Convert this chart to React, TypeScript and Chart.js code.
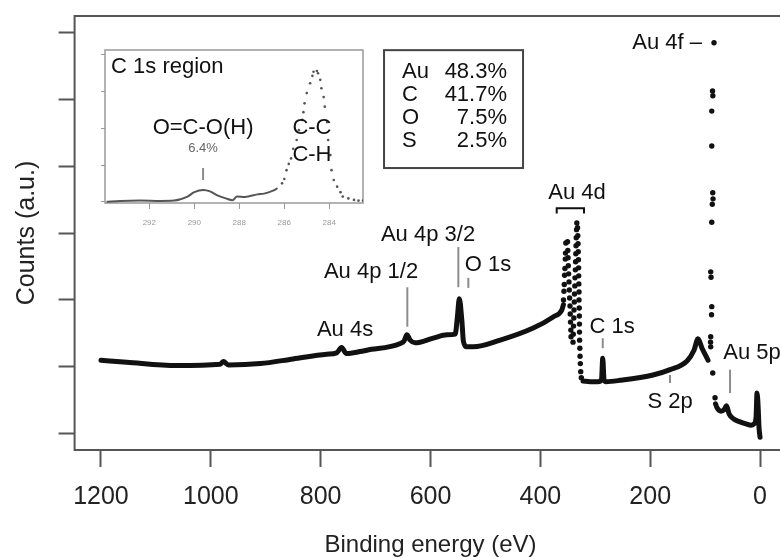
import React, { useEffect, useRef } from "react";
import { Chart, registerables } from "chart.js";

Chart.register(...registerables);

const FONT = "'Liberation Sans', Arial, Helvetica, sans-serif";

// ---------- Survey spectrum (binding energy, eV / counts, a.u.) ----------
const surveyHighEnergy = [1200, 1153, 1062, 983, 977, 968, 910, 850, 789, 771, 762, 753, 728, 716, 655, 648, 643, 637, 628, 595, 570, 555, 551, 547.5, 543, 540, 534, 522, 473, 413, 376, 361, 358];
const surveyHighCounts = [1.10, 1.07, 1.02, 1.04, 1.08, 1.03, 1.05, 1.12, 1.19, 1.21, 1.29, 1.20, 1.23, 1.25, 1.35, 1.39, 1.48, 1.40, 1.36, 1.43, 1.48, 1.49, 1.75, 2.02, 1.70, 1.38, 1.30, 1.30, 1.40, 1.58, 1.75, 1.85, 1.93];

const surveyMidEnergy = [322.3, 309.5, 295.0, 288.6, 286.4, 284.0, 280.4, 254.9, 194.8, 163.9, 132.9, 120.2, 112.9, 105.6, 98.3, 94.7];
const surveyMidCounts = [0.79, 0.78, 0.78, 0.81, 1.13, 0.81, 0.78, 0.80, 0.88, 0.96, 1.09, 1.25, 1.42, 1.28, 1.16, 1.10];

const surveyLowEnergy = [81.0, 78.3, 71.0, 65.5, 61.0, 56.4, 47.3, 36.4, 25.5, 16.4, 10.9, 7.3, 5.5, 3.6, 1.8, 0];
const surveyLowCounts = [0.45, 0.39, 0.34, 0.36, 0.42, 0.30, 0.22, 0.18, 0.15, 0.13, 0.15, 0.24, 0.61, 0.43, 0.09, -0.05];

// Au 4d doublet, plotted as separate points
const au4dEnergy = [357.8, 357.0, 356.4, 355.9, 355.2, 354.6, 354.2, 353.6,
  350.5, 350.0, 349.6, 349.1, 348.5, 347.8, 347.2, 346.7, 346.0, 345.6, 345.1, 344.5, 344.1,
  340.5, 340.0, 339.6, 339.0, 338.7, 338.1, 337.8, 337.2, 336.9, 336.3, 335.8, 335.4, 335.0, 334.7, 334.1, 333.6,
  332.3, 331.8, 331.4, 331.0, 330.7, 330.3, 330.1, 329.9, 329.6, 329.6, 329.2, 329.0, 328.8, 328.7, 328.5, 328.1, 327.7, 327.2, 326.5, 325.4];
const au4dCounts = [2.00, 2.13, 2.23, 2.37, 2.47, 2.61, 2.70, 2.85,
  2.87, 2.74, 2.63, 2.51, 2.39, 2.27, 2.15, 2.03, 1.91, 1.79, 1.67, 1.55, 1.45,
  1.37, 1.49, 1.61, 1.73, 1.85, 1.97, 2.09, 2.21, 2.33, 2.45, 2.57, 2.69, 2.81, 2.93, 3.05, 3.15,
  3.08, 2.96, 2.84, 2.72, 2.60, 2.48, 2.36, 2.24, 2.12, 2.00, 1.88, 1.76, 1.64, 1.52, 1.40, 1.28, 1.16, 1.05, 0.93, 0.84];

// Au 4f doublet, plotted as separate points
const au4fEnergy = [83.8, 86.5, 85.9, 87.9, 87.9, 86.1, 85.6, 86.9, 87.9, 89.8, 89.2, 87.9, 88.3, 89.8, 90.1, 89.8, 86.1, 81.9];
const au4fCounts = [5.84, 5.12, 5.05, 4.82, 4.30, 3.60, 3.51, 3.43, 3.16, 2.42, 2.34, 1.90, 1.78, 1.45, 1.37, 1.30, 0.91, 0.54];

const xTicks = [0, 200, 400, 600, 800, 1000, 1200];
const yTicks = [0, 1, 2, 3, 4, 5, 6];

// Surface composition
const elements = ["Au", "C", "O", "S"];
const atomicPercent = [48.3, 41.7, 7.5, 2.5];

// ---------- C 1s high-resolution region ----------
const c1sLineEnergy = [293.9, 293.3, 292.4, 291.5, 290.9, 290.3, 290.0, 289.6, 289.3, 289.0, 288.6, 288.3, 288.1, 287.75, 287.2, 286.9, 286.5, 286.3];
const c1sLineCounts = [0.00, 0.02, 0.03, 0.02, 0.03, 0.14, 0.26, 0.32, 0.28, 0.18, 0.09, 0.04, 0.14, 0.13, 0.20, 0.22, 0.30, 0.37];
const c1sDotEnergy = [286.1, 286.0, 285.9, 285.8, 285.7, 285.6, 285.45, 285.35, 285.2, 285.15, 285.1, 285.0, 284.85, 284.75, 284.7, 284.55, 284.5, 284.4, 284.35, 284.25, 284.2, 284.1, 284.05, 283.95, 283.9, 283.8, 283.65, 283.5, 283.4, 283.15, 282.9, 282.7, 282.5];
const c1sDotCounts = [0.50, 0.62, 0.86, 1.03, 1.18, 1.44, 1.68, 1.95, 2.23, 2.44, 2.68, 2.96, 3.23, 3.43, 3.54, 3.56, 3.50, 3.32, 3.09, 2.85, 2.59, 2.17, 1.68, 1.27, 0.86, 0.59, 0.41, 0.26, 0.14, 0.09, 0.05, 0.03, 0.03];
const insetTicks = [284, 286, 288, 290, 292];
const insetYTicks = [0, 1, 2, 3, 4];

// ---------- annotations (anchored in data coordinates) ----------
const peakTexts = [
  { text: "Au 4s", e: 755.6, c: 1.55, align: "center" },
  { text: "Au 4p 1/2", e: 708.3, c: 2.42, align: "center" },
  { text: "Au 4p 3/2", e: 604.5, c: 2.97, align: "center" },
  { text: "O 1s", e: 495.3, c: 2.52, align: "center" },
  { text: "Au 4d", e: 333.2, c: 3.60, align: "center" },
  { text: "C 1s", e: 269.5, c: 1.60, align: "center" },
  { text: "S 2p", e: 163.9, c: 0.48, align: "center" },
  { text: "Au 5p", e: 14.6, c: 1.21, align: "center" },
  { text: "Au 4f \u2013", e: 105.6, c: 5.84, align: "right" },
];
const peakMarkers = [
  { e: 642.2, c1: 2.19, c2: 1.60 },
  { e: 549.3, c1: 2.79, c2: 2.19 },
  { e: 531.1, c1: 2.33, c2: 2.18 },
  { e: 286.4, c1: 1.43, c2: 1.28 },
  { e: 163.9, c1: 0.88, c2: 0.76 },
  { e: 54.6, c1: 0.96, c2: 0.61 },
];

const toPoints = (xs: number[], ys: number[]) => xs.map((x, i) => ({ x, y: ys[i] }));

const framePlugin = (color: string, width: number) => ({
  id: "frame",
  beforeDatasetsDraw(chart: any) {
    const { ctx, chartArea: a } = chart;
    ctx.save();
    ctx.strokeStyle = color;
    ctx.lineWidth = width;
    ctx.strokeRect(a.left, a.top, a.right - a.left, a.bottom - a.top);
    ctx.restore();
  },
});

const mainAnnotations = {
  id: "mainAnnotations",
  afterDatasetsDraw(chart: any) {
    const { ctx } = chart;
    const xs = chart.scales.x;
    const ys = chart.scales.y;
    const px = (e: number) => xs.getPixelForValue(e);
    const py = (c: number) => ys.getPixelForValue(c);
    ctx.save();
    // gray markers
    ctx.strokeStyle = "#8c8c8c";
    ctx.lineWidth = 2;
    peakMarkers.forEach((m) => {
      ctx.beginPath();
      ctx.moveTo(px(m.e), py(m.c1));
      ctx.lineTo(px(m.e), py(m.c2));
      ctx.stroke();
    });
    // Au 4d bracket
    ctx.strokeStyle = "#111";
    ctx.lineWidth = 2;
    ctx.beginPath();
    ctx.moveTo(px(370.2), py(3.29));
    ctx.lineTo(px(370.2), py(3.37));
    ctx.lineTo(px(320.5), py(3.37));
    ctx.lineTo(px(320.5), py(3.29));
    ctx.stroke();
    // labels
    ctx.fillStyle = "#111";
    ctx.font = `22px ${FONT}`;
    ctx.textBaseline = "middle";
    peakTexts.forEach((t) => {
      ctx.textAlign = t.align as CanvasTextAlign;
      ctx.fillText(t.text, px(t.e), py(t.c));
    });
    // composition box
    const bx1 = px(684.6), bx2 = px(431.5), by1 = py(5.73), by2 = py(3.97);
    ctx.strokeStyle = "#444";
    ctx.lineWidth = 2;
    ctx.strokeRect(bx1, by1, bx2 - bx1, by2 - by1);
    const rowC = [5.40, 5.06, 4.72, 4.37];
    elements.forEach((el, i) => {
      ctx.textAlign = "left";
      ctx.fillText(el, px(651.9), py(rowC[i]));
      ctx.textAlign = "right";
      ctx.fillText(atomicPercent[i].toFixed(1) + "%", px(460.7), py(rowC[i]));
    });
    ctx.restore();
  },
};

const insetAnnotations = {
  id: "insetAnnotations",
  afterDatasetsDraw(chart: any) {
    const { ctx } = chart;
    const xs = chart.scales.x;
    const ys = chart.scales.y;
    const px = (e: number) => xs.getPixelForValue(e);
    const py = (c: number) => ys.getPixelForValue(c);
    ctx.save();
    ctx.textBaseline = "middle";
    ctx.fillStyle = "#111";
    ctx.font = `22px ${FONT}`;
    ctx.textAlign = "left";
    ctx.fillText("C 1s region", px(293.7), py(3.67));
    ctx.textAlign = "center";
    ctx.fillText("O=C-O(H)", px(289.61), py(2.01));
    ctx.fillText("C-C", px(284.77), py(2.01));
    ctx.fillText("C-H", px(284.77), py(1.27));
    ctx.fillStyle = "#666";
    ctx.font = `13px ${FONT}`;
    ctx.fillText("6.4%", px(289.61), py(1.46));
    ctx.strokeStyle = "#8c8c8c";
    ctx.lineWidth = 2;
    ctx.beginPath();
    ctx.moveTo(px(289.61), py(0.92));
    ctx.lineTo(px(289.61), py(0.59));
    ctx.stroke();
    ctx.restore();
  },
};

export default function App() {
  const mainRef = useRef<HTMLCanvasElement>(null);
  const insetRef = useRef<HTMLCanvasElement>(null);

  useEffect(() => {
    const lineStyle = {
      showLine: true,
      borderColor: "#111",
      borderWidth: 5,
      pointRadius: 0,
      borderJoinStyle: "round" as const,
      borderCapStyle: "round" as const,
      cubicInterpolationMode: "monotone" as const,
    };
    const dotStyle = {
      showLine: false,
      pointRadius: 2.7,
      pointBackgroundColor: "#111",
      pointBorderWidth: 0,
    };
    const main = new Chart(mainRef.current!, {
      type: "scatter",
      data: {
        datasets: [
          { label: "survey high", data: toPoints(surveyHighEnergy, surveyHighCounts), ...lineStyle },
          { label: "survey mid", data: toPoints(surveyMidEnergy, surveyMidCounts), ...lineStyle },
          { label: "survey low", data: toPoints(surveyLowEnergy, surveyLowCounts), ...lineStyle },
          { label: "Au 4d", data: toPoints(au4dEnergy, au4dCounts), ...dotStyle },
          { label: "Au 4f", data: toPoints(au4fEnergy, au4fCounts), ...dotStyle },
        ],
      },
      options: {
        responsive: false,
        animation: false,
        layout: { padding: { left: 0, top: 16, right: 13.6, bottom: 0 } },
        plugins: { legend: { display: false }, tooltip: { enabled: false } },
        scales: {
          x: {
            type: "linear",
            reverse: true,
            min: -48,
            max: 1248,
            position: "bottom",
            afterFit: (s: any) => { s.height = 107; },
            afterBuildTicks: (s: any) => { s.ticks = xTicks.map((v) => ({ value: v })); },
            grid: { display: true, drawOnChartArea: false, drawTicks: true, tickLength: 17, tickColor: "#555", tickWidth: 2 },
            border: { display: false },
            ticks: { color: "#222", font: { family: FONT, size: 25, lineHeight: 1 }, padding: 18, maxRotation: 0, autoSkip: false, callback: (v: any) => String(v) },
            title: { display: true, text: "Binding energy (eV)", color: "#222", font: { family: FONT, size: 24, lineHeight: 1 }, padding: { top: 0, bottom: 0 } },
          },
          y: {
            type: "linear",
            min: -0.24,
            max: 6.24,
            position: "left",
            afterFit: (s: any) => { s.width = 74.6; },
            afterBuildTicks: (s: any) => { s.ticks = yTicks.map((v) => ({ value: v })); },
            grid: { display: true, drawOnChartArea: false, drawTicks: true, tickLength: 16, tickColor: "#555", tickWidth: 2 },
            border: { display: false },
            ticks: { display: false },
            title: { display: true, text: "Counts (a.u.)", color: "#222", font: { family: FONT, size: 25, lineHeight: 1 }, padding: { top: 15, bottom: 0 } },
          },
        },
      },
      plugins: [framePlugin("#555", 2), mainAnnotations],
    } as any);

    const inset = new Chart(insetRef.current!, {
      type: "scatter",
      data: {
        datasets: [
          { label: "C 1s line", data: toPoints(c1sLineEnergy, c1sLineCounts), showLine: true, borderColor: "#555", borderWidth: 2, pointRadius: 0, cubicInterpolationMode: "monotone" },
          { label: "C 1s dots", data: toPoints(c1sDotEnergy, c1sDotCounts), showLine: false, pointRadius: 1.3, pointBackgroundColor: "#555", pointBorderWidth: 0 },
        ],
      },
      options: {
        responsive: false,
        animation: false,
        layout: { padding: { left: 0, top: 10, right: 12, bottom: 0 } },
        plugins: { legend: { display: false }, tooltip: { enabled: false } },
        scales: {
          x: {
            type: "linear",
            reverse: true,
            min: 282.5,
            max: 293.97,
            position: "bottom",
            afterFit: (s: any) => { s.height = 37; },
            afterBuildTicks: (s: any) => { s.ticks = insetTicks.map((v) => ({ value: v })); },
            grid: { display: true, drawOnChartArea: false, drawTicks: true, tickLength: 6, tickColor: "#999", tickWidth: 1 },
            border: { display: false },
            ticks: { color: "#999", font: { family: FONT, size: 8, lineHeight: 1 }, padding: 10, maxRotation: 0, autoSkip: false, callback: (v: any) => String(v) },
          },
          y: {
            type: "linear",
            min: -0.035,
            max: 4.134,
            position: "left",
            afterFit: (s: any) => { s.width = 20; },
            afterBuildTicks: (s: any) => { s.ticks = insetYTicks.map((v) => ({ value: v })); },
            grid: { display: true, drawOnChartArea: false, drawTicks: true, tickLength: 4, tickColor: "#999", tickWidth: 1 },
            border: { display: false },
            ticks: { display: false },
          },
        },
      },
      plugins: [framePlugin("#999", 1.5), insetAnnotations],
    } as any);

    return () => {
      main.destroy();
      inset.destroy();
    };
  }, []);

  return (
    <div style={{ position: "fixed", left: 0, top: 0, width: 780, height: 557, overflow: "hidden", background: "#fff" }}>
      <canvas ref={mainRef} width={800} height={557} style={{ position: "absolute", left: 0, top: 0, display: "block" }} />
      <canvas ref={insetRef} width={290} height={200} style={{ position: "absolute", left: 85, top: 40, display: "block" }} />
    </div>
  );
}
